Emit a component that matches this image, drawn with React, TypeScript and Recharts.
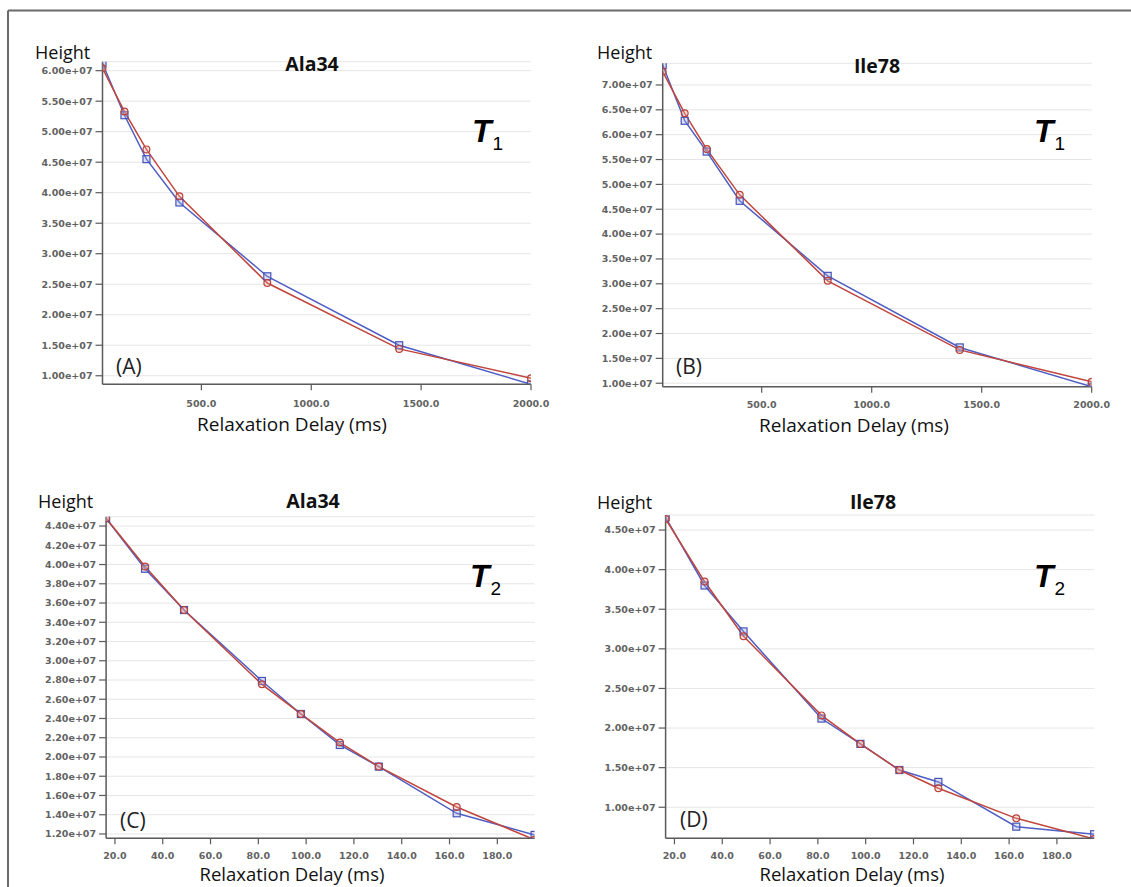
import React from 'react';
import { LineChart, Line, XAxis, YAxis, CartesianGrid } from 'recharts';

// Relaxation delays (ms)
const t1Delays = [50, 150, 250, 400, 800, 1400, 2000];
const t2Delays = [16.3, 32.6, 48.9, 81.5, 97.8, 114.1, 130.4, 163.0, 195.6];

// Peak heights, two series per residue / experiment
const ala34T1Blue = [6.12e7, 5.27e7, 4.55e7, 3.84e7, 2.63e7, 1.5e7, 0.86e7];
const ala34T1Red = [6.04e7, 5.33e7, 4.71e7, 3.94e7, 2.52e7, 1.44e7, 0.96e7];
const ile78T1Blue = [7.4e7, 6.28e7, 5.66e7, 4.67e7, 3.16e7, 1.72e7, 0.93e7];
const ile78T1Red = [7.27e7, 6.43e7, 5.71e7, 4.79e7, 3.06e7, 1.67e7, 1.03e7];
const ala34T2Blue = [4.48e7, 3.956e7, 3.527e7, 2.79e7, 2.447e7, 2.125e7, 1.9e7, 1.415e7, 1.19e7];
const ala34T2Red = [4.48e7, 3.98e7, 3.527e7, 2.755e7, 2.447e7, 2.15e7, 1.9e7, 1.48e7, 1.14e7];
const ile78T2Blue = [4.66e7, 3.8e7, 3.22e7, 2.12e7, 1.8e7, 1.47e7, 1.32e7, 0.755e7, 0.66e7];
const ile78T2Red = [4.64e7, 3.85e7, 3.16e7, 2.16e7, 1.8e7, 1.47e7, 1.24e7, 0.86e7, 0.6e7];

// Tick values
const t1XTicks = [500, 1000, 1500, 2000];
const t2XTicks = [20, 40, 60, 80, 100, 120, 140, 160, 180];
const ala34T1YTicks = [1e7, 1.5e7, 2e7, 2.5e7, 3e7, 3.5e7, 4e7, 4.5e7, 5e7, 5.5e7, 6e7];
const ile78T1YTicks = [1e7, 1.5e7, 2e7, 2.5e7, 3e7, 3.5e7, 4e7, 4.5e7, 5e7, 5.5e7, 6e7, 6.5e7, 7e7];
const ala34T2YTicks = [1.2e7, 1.4e7, 1.6e7, 1.8e7, 2e7, 2.2e7, 2.4e7, 2.6e7, 2.8e7, 3e7, 3.2e7, 3.4e7, 3.6e7, 3.8e7, 4e7, 4.2e7, 4.4e7];
const ile78T2YTicks = [1e7, 1.5e7, 2e7, 2.5e7, 3e7, 3.5e7, 4e7, 4.5e7];

const BLUE = '#4f5ec4';
const RED = '#c0453c';
const AXIS = '#5a5a5a';
const LABEL_FONT = '"Open Sans", sans-serif';

const fmtExp = (v: number) => {
  const e = Math.floor(Math.log10(v) + 1e-9);
  const m = v / Math.pow(10, e);
  return `${m.toFixed(2)}e+${String(e).padStart(2, '0')}`;
};
const fmtFixed = (v: number) => v.toFixed(1);

const buildRows = (xs: number[], blue: number[], red: number[]) =>
  xs.map((x, i) => ({ x, blue: blue[i], red: red[i] }));

const squareDot = (props: any) => {
  const { cx, cy, index } = props;
  if (cx == null || cy == null) return <g key={`s-${index}`} />;
  return (
    <rect
      key={`s-${index}`}
      x={cx - 3.5}
      y={cy - 3.5}
      width={7}
      height={7}
      fill="rgba(160,170,225,0.35)"
      stroke="#4453b8"
      strokeWidth={1.2}
    />
  );
};

const circleDot = (props: any) => {
  const { cx, cy, index } = props;
  if (cx == null || cy == null) return <g key={`c-${index}`} />;
  return (
    <circle
      key={`c-${index}`}
      cx={cx}
      cy={cy}
      r={3.4}
      fill="rgba(230,170,160,0.35)"
      stroke="#b9413a"
      strokeWidth={1.2}
    />
  );
};

type PanelProps = {
  left: number;
  top: number;
  width: number;
  height: number;
  margin: { top: number; right: number; bottom: number; left: number };
  xDomain: [number, number];
  yDomain: [number, number];
  xTicks: number[];
  yTicks: number[];
  xTickGap: number;
  rows: { x: number; blue: number; red: number }[];
};

const tickStyle = {
  fontSize: 9.5,
  fill: '#626262',
  fontWeight: 'bold' as const,
  fontFamily: '"DejaVu Sans", sans-serif',
};

function Panel(p: PanelProps) {
  return (
    <div style={{ position: 'absolute', left: p.left, top: p.top, width: p.width, height: p.height }}>
      <LineChart width={p.width} height={p.height} data={p.rows} margin={p.margin}>
        <CartesianGrid vertical={false} stroke="#e6e6e6" strokeWidth={1} />
        <XAxis
          dataKey="x"
          type="number"
          domain={p.xDomain}
          ticks={p.xTicks}
          allowDataOverflow
          tickFormatter={fmtFixed}
          tickSize={6}
          tickMargin={p.xTickGap}
          height={30}
          tick={tickStyle}
          axisLine={{ stroke: AXIS, strokeWidth: 1.5 }}
          tickLine={{ stroke: AXIS, strokeWidth: 1.2 }}
          interval={0}
        />
        <YAxis
          type="number"
          domain={p.yDomain}
          ticks={p.yTicks}
          allowDataOverflow
          tickFormatter={fmtExp}
          tickSize={7}
          tickMargin={3}
          width={80}
          tick={tickStyle}
          axisLine={{ stroke: AXIS, strokeWidth: 1.5 }}
          tickLine={{ stroke: AXIS, strokeWidth: 1.2 }}
          interval={0}
        />
        <Line
          type="linear"
          dataKey="blue"
          stroke={BLUE}
          strokeWidth={1.5}
          dot={squareDot}
          isAnimationActive={false}
        />
        <Line
          type="linear"
          dataKey="red"
          stroke={RED}
          strokeWidth={1.5}
          dot={circleDot}
          isAnimationActive={false}
        />
      </LineChart>
    </div>
  );
}

type Caption = {
  heightX: number;
  heightY: number;
  title: string;
  titleX: number;
  titleY: number;
  tx: number;
  ty: number;
  sub: string;
  tag: string;
  tagX: number;
  tagY: number;
  axisX: number;
  axisY: number;
  axisSize: number;
};

const captions: Caption[] = [
  { heightX: 35, heightY: 59, title: 'Ala34', titleX: 312, titleY: 71, tx: 472, ty: 142, sub: '1', tag: '(A)', tagX: 116, tagY: 374, axisX: 292, axisY: 431, axisSize: 19 },
  { heightX: 597, heightY: 59, title: 'Ile78', titleX: 877, titleY: 73, tx: 1034, ty: 142, sub: '1', tag: '(B)', tagX: 676, tagY: 374, axisX: 854, axisY: 432, axisSize: 19 },
  { heightX: 38, heightY: 508, title: 'Ala34', titleX: 313, titleY: 508, tx: 470, ty: 587, sub: '2', tag: '(C)', tagX: 120, tagY: 828, axisX: 292, axisY: 881, axisSize: 18.5 },
  { heightX: 597, heightY: 509, title: 'Ile78', titleX: 873, titleY: 509, tx: 1034, ty: 587, sub: '2', tag: '(D)', tagX: 680, tagY: 827, axisX: 852, axisY: 881, axisSize: 18.5 },
];

export default function App() {
  return (
    <div style={{ position: 'absolute', left: 0, top: 0, width: 1131, height: 887, background: '#fff', overflow: 'hidden' }}>
      <Panel
        left={0}
        top={0}
        width={560}
        height={440}
        margin={{ top: 61.7, right: 29, bottom: 25.7, left: 22.5 }}
        xDomain={[50, 2000]}
        yDomain={[8.6e6, 6.147e7]}
        xTicks={t1XTicks}
        yTicks={ala34T1YTicks}
        xTickGap={10}
        rows={buildRows(t1Delays, ala34T1Blue, ala34T1Red)}
      />
      <Panel
        left={560}
        top={0}
        width={571}
        height={440}
        margin={{ top: 63.3, right: 39.3, bottom: 23.3, left: 22.7 }}
        xDomain={[50, 2000]}
        yDomain={[9.3e6, 7.436e7]}
        xTicks={t1XTicks}
        yTicks={ile78T1YTicks}
        xTickGap={9}
        rows={buildRows(t1Delays, ile78T1Blue, ile78T1Red)}
      />
      <Panel
        left={0}
        top={440}
        width={560}
        height={447}
        margin={{ top: 76.7, right: 25.4, bottom: 18.7, left: 26.1 }}
        xDomain={[16.3, 195.6]}
        yDomain={[1.155e7, 4.497e7]}
        xTicks={t2XTicks}
        yTicks={ala34T2YTicks}
        xTickGap={8}
        rows={buildRows(t2Delays, ala34T2Blue, ala34T2Red)}
      />
      <Panel
        left={560}
        top={440}
        width={571}
        height={447}
        margin={{ top: 75, right: 36.8, bottom: 18.7, left: 25.6 }}
        xDomain={[16.3, 195.6]}
        yDomain={[6.08e6, 4.69e7]}
        xTicks={t2XTicks}
        yTicks={ile78T2YTicks}
        xTickGap={8}
        rows={buildRows(t2Delays, ile78T2Blue, ile78T2Red)}
      />
      <svg
        width={1131}
        height={887}
        style={{ position: 'absolute', left: 0, top: 0, pointerEvents: 'none' }}
      >
        <line x1={8} y1={10.5} x2={1131} y2={10.5} stroke="#6a6a6a" strokeWidth={2} />
        <line x1={8} y1={10.5} x2={8} y2={887} stroke="#6a6a6a" strokeWidth={2} />
        {captions.map((c) => (
          <g key={c.tag}>
            <text x={c.heightX} y={c.heightY} fontFamily={LABEL_FONT} fontSize={18} fill="#111">
              Height
            </text>
            <text
              x={c.titleX}
              y={c.titleY}
              fontFamily={LABEL_FONT}
              fontSize={19.5}
              fontWeight="bold"
              textAnchor="middle"
              fill="#111"
            >
              {c.title}
            </text>
            <text x={c.tx} y={c.ty} fontFamily='"Liberation Sans", Arial, sans-serif' fill="#000">
              <tspan fontSize={32} fontWeight="bold" fontStyle="italic">T</tspan>
              <tspan fontSize={19} dy={8} dx={1}>{c.sub}</tspan>
            </text>
            <text x={c.tagX} y={c.tagY} fontFamily={LABEL_FONT} fontSize={21} fill="#222">
              {c.tag}
            </text>
            <text
              x={c.axisX}
              y={c.axisY}
              fontFamily={LABEL_FONT}
              fontSize={c.axisSize}
              textAnchor="middle"
              fill="#111"
            >
              Relaxation Delay (ms)
            </text>
          </g>
        ))}
      </svg>
    </div>
  );
}
